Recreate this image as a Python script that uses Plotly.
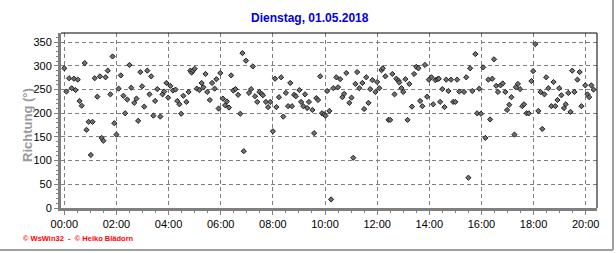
import plotly.graph_objects as go

times = [
"00:00","00:05","00:11","00:17","00:22","00:26","00:31","00:35","00:40","00:47","00:51","00:56",
"01:01","01:05","01:10","01:16","01:22","01:26","01:30","01:35","01:40","01:46","01:51","01:55",
"02:00","02:05","02:10","02:16","02:20","02:25","02:30","02:34","02:41","02:46","02:50","02:55","02:59",
"03:04","03:11","03:16","03:20","03:25","03:29","03:34","03:41","03:46","03:50","03:55","03:59",
"04:04","04:10","04:16","04:20","04:25","04:29","04:34","04:41","04:46","04:50","04:53","04:56",
"05:00","05:05","05:11","05:16","05:20","05:25","05:29","05:35","05:40","05:46","05:50","05:55","05:59",
"06:05","06:10","06:14","06:19","06:24","06:29","06:34","06:40","06:45","06:50","06:53","06:58",
"07:05","07:10","07:14","07:19","07:24","07:29","07:34","07:37","07:44","07:49","07:54",
"08:00","08:05","08:08","08:14","08:19","08:24","08:30","08:35","08:40","08:44","08:49","08:53",
"09:01","09:05","09:10","09:14","09:19","09:23","09:31","09:35","09:40","09:44","09:49","09:53","09:58",
"10:01","10:05","10:10","10:14","10:19","10:26","10:30","10:35","10:40","10:44","10:49","10:56",
"11:01","11:05","11:10","11:14","11:19","11:26","11:30","11:35","11:40","11:44","11:49","11:56",
"12:00","12:05","12:10","12:13","12:19","12:26","12:30","12:35","12:40","12:44","12:49","12:51","12:56",
"13:00","13:05","13:10","13:14","13:20","13:25","13:30","13:35","13:39","13:44","13:50","13:55","13:59",
"14:05","14:09","14:14","14:19","14:22","14:25","14:30","14:35","14:39","14:44","14:50","14:55",
"15:00","15:04","15:09","15:20","15:25","15:30","15:34","15:39","15:46","15:50","15:55","15:59",
"16:04","16:09","16:16","16:20","16:25","16:29","16:34","16:38","16:44","16:49","16:55","16:59",
"17:04","17:09","17:16","17:19","17:24","17:29","17:34","17:38","17:44","17:49","17:55","17:59",
"18:04","18:11","18:16","18:20","18:25","18:29","18:34","18:41","18:46","18:50","18:55","18:59",
"19:04","19:10","19:14","19:20","19:25","19:29","19:34","19:41","19:46","19:50","19:59",
"20:04","20:08","20:13","20:18"]

richtung = [
295,246,274,253,273,249,271,226,216,306,165,182,
112,182,274,235,278,148,142,276,290,240,320,179,
155,252,280,237,200,229,302,254,222,231,184,287,257,
214,290,240,278,195,226,251,193,240,246,264,233,
258,248,250,226,219,199,237,224,245,290,286,290,
294,252,249,264,255,283,245,228,264,252,272,210,285,
231,217,225,212,280,248,251,239,199,327,120,311,
243,251,299,236,224,245,241,238,224,213,224,
162,273,213,234,276,193,243,215,264,215,239,236,
249,224,215,240,211,224,207,158,232,228,278,200,198,
195,247,205,18,253,276,255,272,234,241,285,222,
233,106,262,287,253,264,209,276,222,251,270,245,
266,253,291,295,278,186,186,283,240,273,269,265,253,
245,272,186,262,214,283,298,295,226,215,302,235,271,
276,219,270,272,273,224,251,213,271,247,271,224,
224,271,246,245,276,64,295,247,325,200,252,199,
297,148,271,187,273,314,258,245,259,263,245,207,
218,234,155,255,262,251,215,219,200,200,268,289,
346,205,245,167,240,276,253,215,266,215,228,253,
238,211,219,243,203,290,245,271,287,215,259,
240,234,259,250]

tick_vals = ["00:00","02:00","04:00","06:00","08:00","10:00","12:00","14:00","16:00","18:00","20:00"]
y_ticks = [0, 50, 100, 150, 200, 250, 300, 350]

DAY = "2018-05-01 "
x = [DAY + t for t in times]

# plot area pixels: x 61..597, y 33..208 in a 616x253 frame
L, R, T, B = 61, 597, 33, 208
W, H = 616, 253
pw, ph = R - L, B - T

def px(xp):
    return (xp - L) / pw

def py(yp):
    return (B - yp) / ph

fig = go.Figure()
fig.add_trace(go.Scatter(
    x=x, y=richtung, mode="markers",
    marker=dict(symbol="diamond", size=4, color="#707070",
                line=dict(color="#202020", width=1)),
    showlegend=False, hoverinfo="skip"))

font = "Liberation Sans, Arial, sans-serif"
GRID_DASH = "4px,3px"

fig.update_layout(
    width=W, height=H,
    margin=dict(l=L, r=W - R, t=T, b=H - B, pad=0),
    paper_bgcolor="white", plot_bgcolor="white",
    font=dict(family=font, size=11, color="black"),
    xaxis=dict(
        type="date",
        range=["2018-04-30 23:52:23", "2018-05-01 20:26:00"],
        tickvals=[DAY + t for t in tick_vals], ticktext=tick_vals,
        showgrid=True, gridcolor="#808080", griddash=GRID_DASH, gridwidth=1,
        showline=True, linecolor="#808080", linewidth=3,
        ticks="outside", ticklen=4, tickcolor="#808080", tickwidth=1,
        minor=dict(dtick=30 * 60 * 1000, tick0=DAY + "00:00", ticks="outside",
                   ticklen=2, tickcolor="#808080", showgrid=False),
        zeroline=False, fixedrange=True,
        tickfont=dict(size=11, family=font, color="black"),
    ),
    yaxis=dict(
        range=[0, 369.5],
        tickvals=y_ticks,
        showgrid=True, gridcolor="#808080", griddash=GRID_DASH, gridwidth=1,
        showline=True, linecolor="#808080", linewidth=3,
        ticks="outside", ticklen=4, tickcolor="#808080", tickwidth=1,
        minor=dict(dtick=10, ticks="outside", ticklen=2, tickcolor="#808080",
                   showgrid=False),
        zeroline=False, fixedrange=True,
        tickfont=dict(size=11, family=font, color="black"),
    ),
    shapes=[
        dict(type="line", xref="paper", yref="paper", x0=0, x1=1, y0=1, y1=1,
             line=dict(color="black", width=1)),
        dict(type="line", xref="paper", yref="paper", x0=1, x1=1, y0=0, y1=1,
             line=dict(color="black", width=1)),
        dict(type="line", xref="paper", yref="paper", x0=px(613), x1=px(613),
             y0=py(250), y1=py(0), line=dict(color="#a0a0a0", width=2)),
        dict(type="line", xref="paper", yref="paper", x0=px(0), x1=px(613),
             y0=py(250), y1=py(250), line=dict(color="#a0a0a0", width=2)),
    ],
    annotations=[
        dict(text="<b>Dienstag, 01.05.2018</b>", xref="paper", yref="paper",
             x=px(310), y=py(18), xanchor="center", yanchor="middle",
             showarrow=False, font=dict(size=12, color="#0000e0", family=font)),
        dict(text="<b>Richtung (°)</b>", xref="paper", yref="paper",
             x=px(27), y=py(125), xanchor="center", yanchor="middle",
             textangle=-90, showarrow=False,
             font=dict(size=13, color="#9a9a9a", family=font)),
        dict(text="<b>© WsWin32  -  © Heiko Blädorn</b>", xref="paper", yref="paper",
             x=px(21), y=py(239), xanchor="left", yanchor="middle",
             showarrow=False, font=dict(size=7.5, color="#ff0000", family=font)),
    ],
)

fig.write_html("out.html")
